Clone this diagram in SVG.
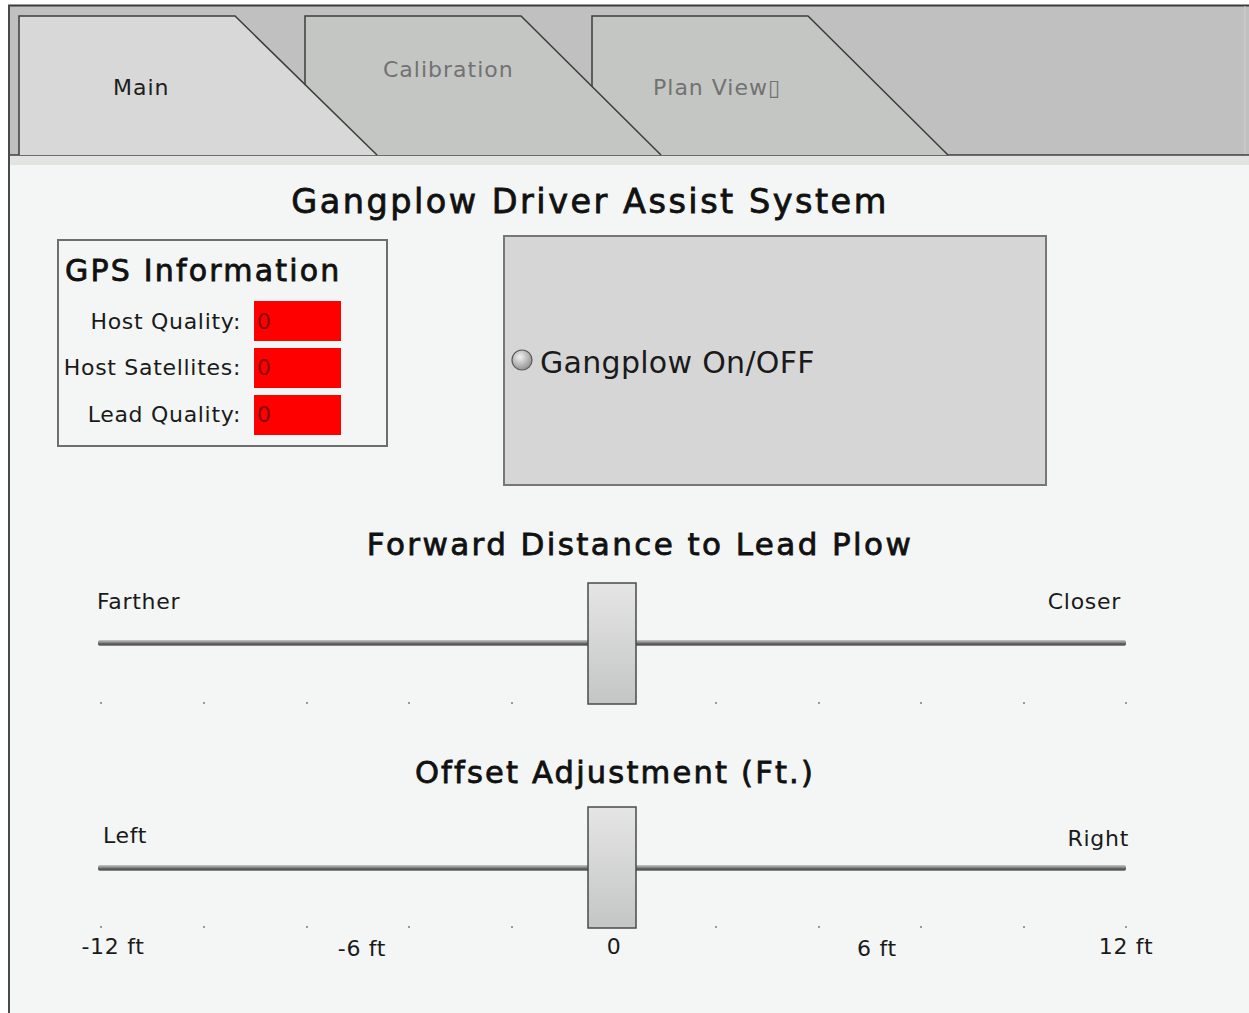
<svg xmlns="http://www.w3.org/2000/svg" width="1249" height="1013" viewBox="0 0 1249 1013">
  <style>
    text { font-family: "DejaVu Sans", "Liberation Sans", sans-serif; }
    .tabon { fill: #d8d8d8; stroke: #3c3c3c; stroke-width: 1.5; }
    .taboff { fill: #c4c6c3; stroke: #3c3c3c; stroke-width: 1.5; }
    .tablbl { font-size: 22px; fill: #727272; letter-spacing: 1px; }
    .title { font-size: 30.5px; fill: #111; stroke: #111; stroke-width: 0.8; letter-spacing: 2.2px; }
    .lbl { font-size: 22px; fill: #1a1a1a; letter-spacing: 0.7px; }
    .val { fill: #ff0000; }
    .valtxt { font-size: 22px; fill: #8a0000; }
    .track { fill: url(#trackGrad); }
    .knob { fill: url(#knobGrad); stroke: #4a4a4a; stroke-width: 1.5; }
    .tick { fill: #9a9a9a; }
  </style>
  <defs>
    <linearGradient id="trackGrad" x1="0" y1="0" x2="0" y2="1">
      <stop offset="0" stop-color="#c8c8c8"/>
      <stop offset="0.4" stop-color="#8a8a8a"/>
      <stop offset="0.7" stop-color="#4a4a4a"/>
      <stop offset="1" stop-color="#9a9a9a"/>
    </linearGradient>
    <linearGradient id="knobGrad" x1="0" y1="0" x2="0" y2="1">
      <stop offset="0" stop-color="#e4e5e4"/>
      <stop offset="1" stop-color="#c4c6c5"/>
    </linearGradient>
    <radialGradient id="ledGrad" cx="0.4" cy="0.35" r="0.7">
      <stop offset="0" stop-color="#f2f2f2"/>
      <stop offset="1" stop-color="#8c8c8c"/>
    </radialGradient>
  </defs>

  <!-- page background -->
  <rect x="0" y="0" width="1249" height="1013" fill="#ffffff"/>
  <rect x="9" y="5" width="1240" height="1008" fill="#f3f6f4"/>

  <!-- tab strip -->
  <g id="tabbar">
    <rect x="9" y="5" width="1240" height="150" fill="#c0c0c0"/>
    <rect x="9" y="156" width="1240" height="9" fill="#e1e4e1"/>
    <line x1="8" y1="5.5" x2="1249" y2="5.5" stroke="#3a3a3a" stroke-width="2"/>
    <line x1="1245" y1="6" x2="1245" y2="155" stroke="#d0d0d0" stroke-width="1"/>
    <line x1="9" y1="155" x2="1249" y2="155" stroke="#3c3c3c" stroke-width="1.5"/>
  </g>

  <g id="tab-planview">
    <path class="taboff" d="M592,155 L592,16 L808,16 L948,155"/>
    <text class="tablbl" x="653" y="95">Plan View▯</text>
  </g>
  <g id="tab-calibration">
    <path class="taboff" d="M305,155 L305,16 L521,16 L661,155"/>
    <text class="tablbl" x="383" y="77">Calibration</text>
  </g>
  <g id="tab-main">
    <path class="tabon" d="M19,155 L19,16 L235,16 L377,155"/>
    <text class="tablbl" x="113" y="95" style="fill:#1e1e1e">Main</text>
  </g>

  <!-- window left edge -->
  <line x1="9" y1="5" x2="9" y2="1013" stroke="#4a4a4a" stroke-width="2"/>

  <text id="page-title" class="title" x="590" y="213" text-anchor="middle" style="font-size:33.5px;letter-spacing:2.5px">Gangplow Driver Assist System</text>

  <!-- GPS status panel -->
  <g id="gps-info">
    <rect x="58" y="240" width="329" height="206" fill="#f3f6f4" stroke="#6e6e6e" stroke-width="2"/>
    <text class="title" x="65" y="281" style="font-size:30px">GPS Information</text>
    <text class="lbl" x="241" y="329" text-anchor="end">Host Quality:</text>
    <text class="lbl" x="241" y="375" text-anchor="end">Host Satellites:</text>
    <text class="lbl" x="241" y="422" text-anchor="end">Lead Quality:</text>
    <rect class="val" x="254" y="301" width="87" height="40"/>
    <rect class="val" x="254" y="348" width="87" height="40"/>
    <rect class="val" x="254" y="395" width="87" height="40"/>
    <text class="valtxt" x="257" y="329">0</text>
    <text class="valtxt" x="257" y="375">0</text>
    <text class="valtxt" x="257" y="422">0</text>
  </g>

  <!-- on/off switch -->
  <g id="gangplow-switch">
    <rect x="504" y="236" width="542" height="249" fill="#d6d6d6" stroke="#777" stroke-width="2"/>
    <circle cx="522" cy="360" r="10" fill="url(#ledGrad)" stroke="#5a5a5a" stroke-width="1.2"/>
    <text x="540" y="373" style="font-size:30px;fill:#1a1a1a;letter-spacing:0.3px">Gangplow On/OFF</text>
  </g>

  <!-- forward distance slider -->
  <g id="forward-slider">
    <text class="title" x="640" y="555" text-anchor="middle" style="font-size:31px;letter-spacing:2.4px">Forward Distance to Lead Plow</text>
    <text class="lbl" x="97" y="609">Farther</text>
    <text class="lbl" x="1121" y="609" text-anchor="end">Closer</text>
    <rect class="track" x="98" y="640" width="1028" height="6" rx="2"/>
    <g class="tick">
      <rect x="100" y="702" width="2" height="2"/>
      <rect x="203" y="702" width="2" height="2"/>
      <rect x="306" y="702" width="2" height="2"/>
      <rect x="408" y="702" width="2" height="2"/>
      <rect x="511" y="702" width="2" height="2"/>
      <rect x="715" y="702" width="2" height="2"/>
      <rect x="818" y="702" width="2" height="2"/>
      <rect x="920" y="702" width="2" height="2"/>
      <rect x="1023" y="702" width="2" height="2"/>
      <rect x="1125" y="702" width="2" height="2"/>
    </g>
    <rect class="knob" x="588" y="583" width="48" height="121"/>
  </g>

  <!-- lateral offset slider -->
  <g id="offset-slider">
    <text class="title" x="615" y="783" text-anchor="middle">Offset Adjustment (Ft.)</text>
    <text class="lbl" x="103" y="843">Left</text>
    <text class="lbl" x="1129" y="846" text-anchor="end">Right</text>
    <rect class="track" x="98" y="865" width="1028" height="6" rx="2"/>
    <g class="tick">
      <rect x="100" y="926" width="2" height="2"/>
      <rect x="203" y="926" width="2" height="2"/>
      <rect x="306" y="926" width="2" height="2"/>
      <rect x="408" y="926" width="2" height="2"/>
      <rect x="511" y="926" width="2" height="2"/>
      <rect x="715" y="926" width="2" height="2"/>
      <rect x="818" y="926" width="2" height="2"/>
      <rect x="920" y="926" width="2" height="2"/>
      <rect x="1023" y="926" width="2" height="2"/>
      <rect x="1125" y="926" width="2" height="2"/>
    </g>
    <rect class="knob" x="588" y="807" width="48" height="121"/>
    <text class="lbl" x="113" y="954" text-anchor="middle">-12 ft</text>
    <text class="lbl" x="362" y="956" text-anchor="middle">-6 ft</text>
    <text class="lbl" x="614" y="954" text-anchor="middle">0</text>
    <text class="lbl" x="877" y="956" text-anchor="middle">6 ft</text>
    <text class="lbl" x="1126" y="954" text-anchor="middle">12 ft</text>
  </g>
</svg>
